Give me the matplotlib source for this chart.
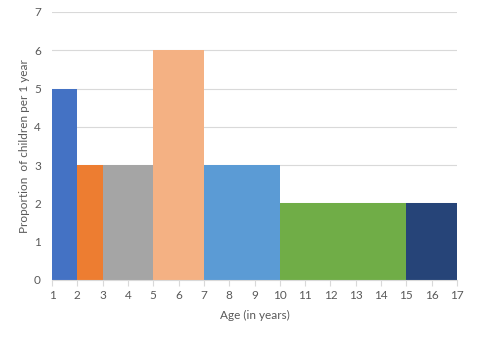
from matplotlib import pyplot as plt

edges = [1, 2, 3, 5, 7, 10, 15, 17]
heights = [5, 3, 3, 6, 3, 2, 2]
colors = ['#4472C4', '#ED7D31', '#A5A5A5', '#F4B183', '#5B9BD5', '#70AD47', '#264478']

plt.rcParams['font.family'] = ['Lato', 'DejaVu Sans']
txt = '#595959'

fig = plt.figure(figsize=(4.79, 3.39), dpi=100)
ax = fig.add_axes([52/479, 1-280/339, (457-52)/479, (280-12)/339])

for i in range(len(heights)):
    ax.bar(edges[i], heights[i], width=edges[i+1]-edges[i], align='edge',
           color=colors[i], zorder=2)

ax.set_xlim(1, 17)
ax.set_ylim(0, 7)
ax.set_xticks(range(1, 18))
ax.set_yticks(range(0, 8))
ax.grid(axis='y', color='#D9D9D9', linewidth=0.8, zorder=0)
for s in ['top', 'right', 'left']:
    ax.spines[s].set_visible(False)
ax.spines['bottom'].set_color('#D9D9D9')
ax.tick_params(axis='x', length=4, color='#D9D9D9', labelsize=8.5, labelcolor=txt, pad=3)
ax.tick_params(axis='y', length=0, labelsize=8.5, labelcolor=txt, pad=8)
ax.set_xlabel('Age (in years)', fontsize=8.5, color=txt, labelpad=7)
ax.set_ylabel('Proportion  of children per 1 year', fontsize=8.5, color=txt, labelpad=3)

fig.savefig('out.png', dpi=100)
